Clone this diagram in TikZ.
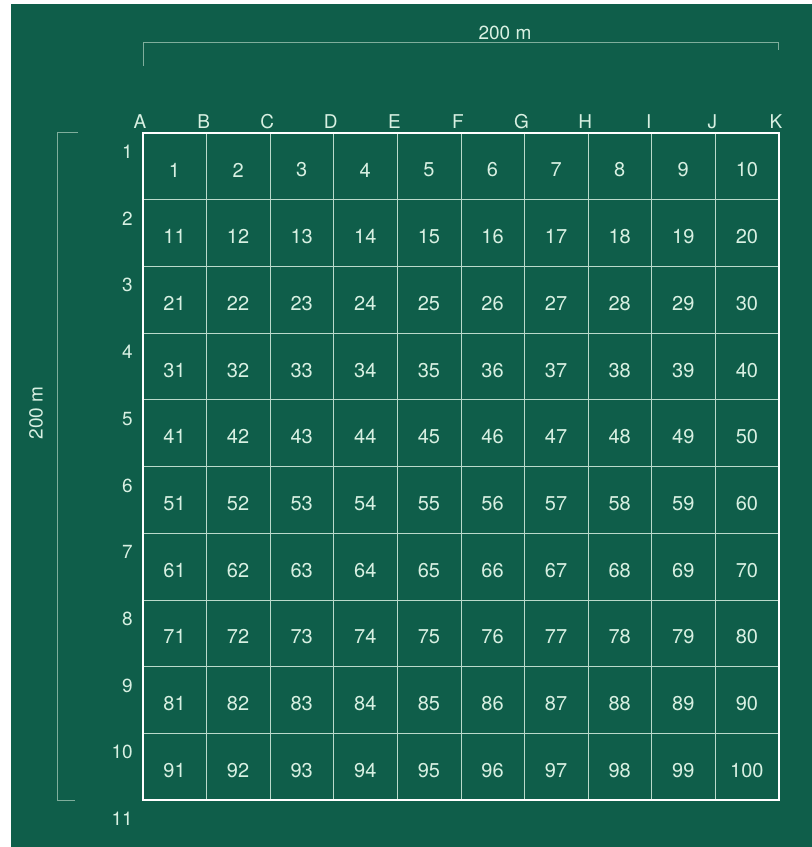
\documentclass[tikz,border=0pt]{standalone}
\usepackage{fontspec}
\setmainfont{TeX Gyre Heros}
\usepackage{tikz}
\usetikzlibrary{positioning}
\definecolor{FieldGreen}{HTML}{0F5E4A}
\definecolor{ChalkWhite}{HTML}{D8F0E2}
\definecolor{DimLine}{HTML}{7FAE9C}

\begin{document}
\begin{tikzpicture}[x=1pt,y=-1pt,
    gridline/.style={ChalkWhite!85!FieldGreen, line width=0.8pt},
    border/.style={white, line width=2.6pt},
    dimline/.style={DimLine, line width=0.8pt},
    cellnum/.style={text=ChalkWhite, font=\fontsize{20}{22}\selectfont, inner sep=0pt},
    collabel/.style={text=ChalkWhite, font=\fontsize{19}{21}\selectfont, inner sep=0pt},
    rowlabel/.style={text=ChalkWhite, font=\fontsize{19}{21}\selectfont, inner sep=0pt, anchor=east}]
        \useasboundingbox (0,0) rectangle (812,847);
        \fill[white] (0,0) rectangle (812,847);
        \fill[FieldGreen] (11,4) rectangle (812,847);
        % dimension lines
        \draw[dimline] (143,66) -- (143,42) -- (778,42) -- (778,50);
        \node[collabel] (widthlabel) at (505,33) {200 m};
        \draw[dimline] (78,132) -- (57,132) -- (57,800) -- (75,800);
        \node[collabel, rotate=90] (heightlabel) at (36,413) {200 m};
        % inner grid
        \foreach \c in {1,...,9}{
            \draw[gridline] ({143+\c*63.6},133) -- ({143+\c*63.6},800);
        }
        \foreach \r in {1,...,9}{
            \draw[gridline] (143,{133+\r*66.7}) -- (779,{133+\r*66.7});
        }
        \draw[border] (143,133) rectangle (779,800);
        % plot numbers
        \foreach \r in {0,...,9}{
            \foreach \c in {0,...,9}{
                \pgfmathtruncatemacro{\n}{\r*10+\c+1}
                \node[cellnum] (plot\n) at ({174.5+\c*63.6},{170+\r*66.7}) {\n};
            }
        }
        % grid line labels
        \foreach \l [count=\i from 0] in {A,B,C,D,E,F,G,H,I,J,K}{
            \node[collabel] (col\l) at ({140+\i*63.6},122) {\l};
        }
        \foreach \i in {1,...,11}{
            \node[rowlabel] (row\i) at (133,{152+(\i-1)*66.7}) {\i};
        }
    \end{tikzpicture}
\end{document}
